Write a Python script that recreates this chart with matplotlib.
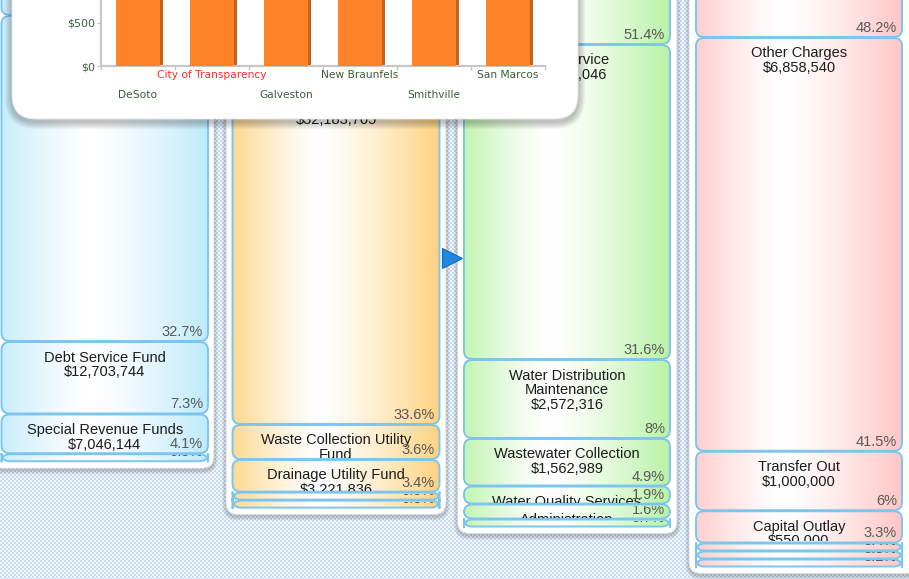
import numpy as np
import matplotlib.pyplot as plt
from matplotlib.patches import FancyBboxPatch
from matplotlib.colors import to_rgb
from matplotlib.ticker import FuncFormatter
from matplotlib.transforms import Bbox, TransformedBbox

plt.rcParams["font.family"] = ["Liberation Sans", "DejaVu Sans"]

W, H = 909, 579

# Popup comparison chart (bars run off the top of the view, heights are estimates)
cities = ["DeSoto", "City of Transparency", "Galveston", "New Braunfels", "Smithville", "San Marcos"]
city_values = [1180, 1420, 1650, 1310, 990, 1240]

# Level 1: expenditures by fund
fund_names = ["Enterprise Funds", "General Fund", "Debt Service Fund",
              "Special Revenue Funds", "Capital Projects Funds"]
fund_amounts = [95800000, 56561237, 12703744, 7046144, 848875]

# Level 2: enterprise funds
enterprise_names = ["Electric Utility Fund", "Water & Wastewater Fund",
                    "Waste Collection Utility\nFund", "Drainage Utility Fund",
                    "Airport Fund", "Golf Course Fund"]
enterprise_amounts = [56198342, 32183705, 3452617, 3221836, 462000, 281500]

# Level 3: water & wastewater fund by division
division_names = ["Utility Operations", "Debt Service", "Water Distribution\nMaintenance",
                  "Wastewater Collection", "Water Quality Services", "Administration",
                  "Utility Billing"]
division_amounts = [16536000, 10171046, 2572316, 1562989, 611490, 514940, 214924]

# Level 4: utility operations by expense type
expense_names = ["Personnel Services", "Other Charges", "Transfer Out", "Capital Outlay",
                 "Supplies", "Contractual Services", "Maintenance"]
expense_amounts = [7970352, 6858540, 1000000, 550000, 68214, 50532, 38362]

PX_PER_PCT = 10.0
MIN_H = 7
GAP = 1

fig = plt.figure(figsize=(W / 100, H / 100), dpi=100)
ax = fig.add_axes([0, 0, 1, 1])

# dotted page background
ii, jj = np.mgrid[0:H, 0:W]
checker = ((ii // 2 + jj // 2) % 2 == 0)[..., None]
bg = np.where(checker, np.array(to_rgb("#c6dcf1")), np.array(to_rgb("#f4f8fd")))
ax.imshow(bg, extent=(0, W, H, 0), aspect="auto", interpolation="nearest", zorder=0)


def soft_shadow(x, y, w, h, r, layers, alpha, dy, z):
    for k in range(layers, 0, -1):
        ax.add_patch(FancyBboxPatch((x - k, y - k + dy), w + 2 * k, h + 2 * k,
                                    boxstyle=f"round,pad=0,rounding_size={r + k}",
                                    fc="black", ec="none", alpha=alpha, zorder=z))


def edge_gradient(color, n=240):
    u = np.linspace(0, 1, n)
    c = 0.42
    w = np.where(u < c, ((c - u) / c) ** 1.3 * 0.85, ((u - c) / (1 - c)) ** 1.3)
    rgb = (1 - w[:, None]) * np.ones(3) + w[:, None] * np.array(to_rgb(color))
    return rgb[None, :, :]


def pct_label(p):
    s = f"{p:.1f}"
    if s.endswith(".0"):
        s = s[:-2]
    return s + "%"


columns = [
    (fund_names, fund_amounts, "#bfeafb", (1.5, 208), (-14, 214), 15),
    (enterprise_names, enterprise_amounts, "#fdd27f", (232.5, 439.5), (226, 446), 89),
    (division_names, division_amounts, "#b9f2a6", (464, 670), (457.5, 677), 44),
    (expense_names, expense_amounts, "#ffc6c6", (696, 902), (689, 930), 37),
]

for names, amounts, color, (x0, x1), (cx0, cx1), first_end in columns:
    total = sum(amounts)
    pcts = [a / total * 100 for a in amounts]
    heights = [max(p * PX_PER_PCT - 2, MIN_H) for p in pcts]
    # first box ends at first_end, rest stack below
    tops = [first_end - heights[0]]
    for h in heights[:-1]:
        tops.append(tops[-1] + h + GAP)
    bottom = tops[-1] + heights[-1]

    card_top = tops[0] - 30
    soft_shadow(cx0, card_top, cx1 - cx0, bottom + 7 - card_top, 12, 4, 0.05, 2, 1)
    ax.add_patch(FancyBboxPatch((cx0, card_top), cx1 - cx0, bottom + 7 - card_top,
                                boxstyle="round,pad=0,rounding_size=12",
                                fc="white", ec="#d8d8d8", lw=0.6, zorder=2))

    grad = edge_gradient(color)
    for name, amt, p, top, h in zip(names, amounts, pcts, tops, heights):
        box = FancyBboxPatch((x0, top), x1 - x0, h,
                             boxstyle="round,pad=0,rounding_size=8",
                             fc="none", ec="#7cc5ef", lw=1.4, zorder=4)
        ax.add_patch(box)
        im = ax.imshow(grad, extent=(x0, x1, top + h, top), aspect="auto",
                       interpolation="bilinear", zorder=3)
        im.set_clip_path(box)
        # clip labels to the box (Agg only honours rectangular text clips)
        clip = TransformedBbox(Bbox.from_extents(x0, top + 1, x1, top + h - 1), ax.transData)
        t = ax.text((x0 + x1) / 2, top + 8.5, f"{name}\n${amt:,}", ha="center", va="top",
                    fontsize=10.5, color="#1c1c1c", linespacing=1.05, zorder=5,
                    clip_on=True)
        t.set_clip_box(clip)
        t2 = ax.text(x1 - 5, top + h - 9, pct_label(p), ha="right", va="center",
                     fontsize=10.5, color="#585858", zorder=5, clip_on=True)
        t2.set_clip_box(clip)

# drill-down arrow between level 2 and level 3
ax.plot([452], [258], marker=">", ms=15, color="#1f87dd", mec="#1668b8", mew=0.8, zorder=6)

# popup card
soft_shadow(12, -80, 566, 199, 24, 7, 0.035, 3, 8)
ax.add_patch(FancyBboxPatch((12, -80), 566, 199, boxstyle="round,pad=0,rounding_size=24",
                            fc="white", ec="#e6e6e6", lw=0.6, zorder=9))

ax.set_xlim(0, W)
ax.set_ylim(H, 0)
ax.axis("off")

# popup bar chart
ax_h = 260
bx = fig.add_axes([101 / W, 1 - 66 / H, 444 / W, ax_h / H])
bx.patch.set_alpha(0)
x = np.arange(len(cities))
bx.bar(x + 0.035, city_values, width=0.6, color="#c4611b", zorder=2)
bx.bar(x, city_values, width=0.6, color="#fe8228", zorder=3)
bx.set_xlim(-0.5, len(cities) - 0.5)
bx.set_ylim(0, 500 * ax_h / 43)
bx.set_yticks(np.arange(0, 3000, 500))
bx.yaxis.set_major_formatter(FuncFormatter(lambda v, _: f"${v:,.0f}"))
bx.set_xticks(np.arange(len(cities) + 1) - 0.5)
bx.set_xticklabels([])
for s in ["top", "right"]:
    bx.spines[s].set_visible(False)
for s in ["left", "bottom"]:
    bx.spines[s].set_color("#c6c6c6")
    bx.spines[s].set_linewidth(1.5)
bx.tick_params(axis="both", colors="#c6c6c6", length=3, width=1)
bx.tick_params(axis="y", labelcolor="#3b5d3b", labelsize=8, pad=1)
for lab in bx.get_yticklabels():
    lab.set_family("DejaVu Sans")
for i, city in enumerate(cities):
    dy = -29 if i % 2 == 0 else -9
    bx.annotate(city, xy=(i, 0), xycoords=("data", "axes fraction"),
                xytext=(0, dy), textcoords="offset pixels", ha="center", va="center",
                fontsize=7.7, family="DejaVu Sans",
                color="#ff2a2a" if city == "City of Transparency" else "#3b5d3b")

fig.savefig("out.png", dpi=100)
